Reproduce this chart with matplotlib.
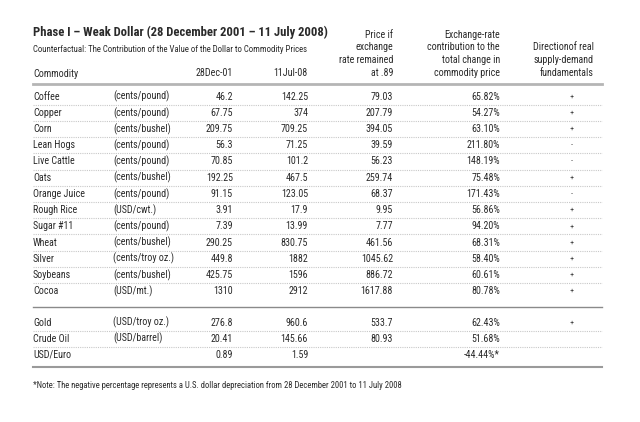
import matplotlib
matplotlib.use('Agg')
import matplotlib.pyplot as plt
from matplotlib import font_manager

# pick a narrow font if there is one
names = set(f.name for f in font_manager.fontManager.ttflist)
font = 'DejaVu Sans'
for cand in ['Liberation Sans Narrow', 'Roboto Condensed', 'Open Sans Condensed', 'DejaVu Sans']:
    if cand in names:
        font = cand
        break
plt.rcParams['font.family'] = [font, 'DejaVu Sans']

''' Data '''
title = 'Phase I \u2013 Weak Dollar (28 December 2001 \u2013 11 July 2008)'
subtitle = 'Counterfactual: The Contribution of the Value of the Dollar to Commodity Prices'
note = '*Note: The negative percentage represents a U.S. dollar depreciation from 28 December 2001 to 11 July 2008'

commodities = ['Coffee', 'Copper', 'Corn', 'Lean Hogs', 'Live Cattle', 'Oats', 'Orange Juice',
               'Rough Rice', 'Sugar #11', 'Wheat', 'Silver', 'Soybeans', 'Cocoa']
units = ['(cents/pound)', '(cents/pound)', '(cents/bushel)', '(cents/pound)', '(cents/pound)',
         '(cents/bushel)', '(cents/pound)', '(USD/cwt.)', '(cents/pound)', '(cents/bushel)',
         '(cents/troy oz.)', '(cents/bushel)', '(USD/mt.)']
dec01 = ['46.2', '67.75', '209.75', '56.3', '70.85', '192.25', '91.15', '3.91', '7.39',
         '290.25', '449.8', '425.75', '1310']
jul08 = ['142.25', '374', '709.25', '71.25', '101.2', '467.5', '123.05', '17.9', '13.99',
         '830.75', '1882', '1596', '2912']
price_89 = ['79.03', '207.79', '394.05', '39.59', '56.23', '259.74', '68.37', '9.95', '7.77',
            '461.56', '1045.62', '886.72', '1617.88']
fx_contrib = ['65.82%', '54.27%', '63.10%', '211.80%', '148.19%', '75.48%', '171.43%',
              '56.86%', '94.20%', '68.31%', '58.40%', '60.61%', '80.78%']
direction = ['+', '+', '+', '-', '-', '+', '-', '+', '+', '+', '+', '+', '+']

other_names = ['Gold', 'Crude Oil', 'USD/Euro']
other_units = ['(USD/troy oz.)', '(USD/barrel)', '']
other_dec01 = ['276.8', '20.41', '0.89']
other_jul08 = ['960.6', '145.66', '1.59']
other_price = ['533.7', '80.93', '']
other_fx = ['62.43%', '51.68%', '-44.44%*']
other_dir = ['+', '', '']

headers = ['28Dec-01', '11Jul-08',
           'Price if\nexchange\nrate remained\nat .89',
           'Exchange-rate\ncontribution to the\ntotal change in\ncommodity price',
           'Directionof real\nsupply-demand\nfundamentals']

''' Layout (pixels) '''
fig = plt.figure(figsize=(6.4, 4.22), dpi=100)
ax = fig.add_axes([0, 0, 1, 1])
ax.set_xlim(0, 640)
ax.set_ylim(422, 0)
ax.axis('off')

txt = '#2a2a2a'
fs = 7.2
x0, x1 = 33, 602
x_unit = 113
x_cols = [233, 308, 393, 500]
x_dir = 572

ax.text(x0, 32, title, fontsize=9.1, fontweight='bold', color=txt, va='center')
ax.text(x0, 50, subtitle, fontsize=6.3, color=txt, va='center')

ax.text(x0, 74, 'Commodity', fontsize=fs, color=txt, va='center')
for x, h in zip(x_cols + [594], headers):
    ax.text(x, 78, h, fontsize=fs, color=txt, ha='right', va='bottom', linespacing=1.35)

ax.plot([x0, x1], [84, 84], color='#b5b5b5', lw=2)


def draw_rows(y_start, names_, units_, a, b, c, d, e):
    ys = []
    for i in range(len(names_)):
        y = y_start + i * 16.2
        ys.append(y)
        ax.text(x0, y, names_[i], fontsize=fs, color=txt, va='center')
        ax.text(x_unit, y, units_[i], fontsize=fs, color=txt, va='center')
        for x, v in zip(x_cols, [a[i], b[i], c[i], d[i]]):
            ax.text(x, y, v, fontsize=fs, color=txt, va='center', ha='right')
        ax.text(x_dir, y, e[i], fontsize=6, color='#444444', va='center', ha='center')
    return ys


ys = draw_rows(96.7, commodities, units, dec01, jul08, price_89, fx_contrib, direction)
for y in ys[:-1]:
    ax.plot([x0, x1], [y + 8.1, y + 8.1], color='#c8c8c8', lw=0.8, ls=(0, (1, 1)))

ax.plot([x0, x1], [307, 307], color='#8a8a8a', lw=1)

ys2 = draw_rows(322.5, other_names, other_units, other_dec01, other_jul08, other_price, other_fx, other_dir)
for y in ys2[:-1]:
    ax.plot([x0, x1], [y + 8.1, y + 8.1], color='#c8c8c8', lw=0.8, ls=(0, (1, 1)))

ax.plot([x0, x1], [367, 367], color='#9a9a9a', lw=1.5)

ax.text(x0, 386, note, fontsize=6.2, color=txt, va='center')

plt.savefig('out.png', dpi=100, facecolor='white')
